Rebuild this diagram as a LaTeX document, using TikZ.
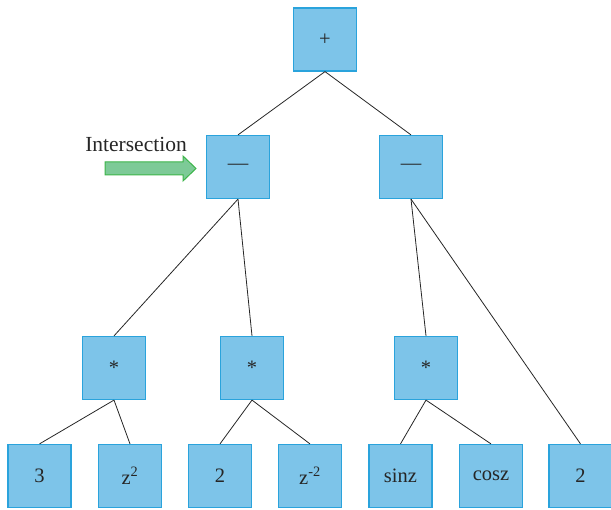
\documentclass[tikz,border=0pt]{standalone}
\usepackage{fontspec}
\setmainfont{Liberation Serif}
\definecolor{boxfill}{HTML}{7DC4E9}
\definecolor{boxedge}{HTML}{2AA3DC}
\definecolor{arrfill}{HTML}{7DCA97}
\definecolor{arredge}{HTML}{3DB54A}
\begin{document}
\begin{tikzpicture}[x=1pt,y=-1pt,
  tbox/.style={draw=boxedge,fill=boxfill,line width=1.2pt,minimum size=63pt,inner sep=0pt,
    font=\fontsize{20.5}{24}\selectfont,text=black!85},
  edge/.style={draw=black!85,line width=0.8pt}]
\useasboundingbox (0,0) rectangle (611,510);
\node[tbox] (top) at (325,39.5) {+};
\node[tbox] (m1) at (238,167) {—};
\node[tbox] (m2) at (411,167) {—};
\node[tbox] (s1) at (114,368) {*};
\node[tbox] (s2) at (252,368) {*};
\node[tbox] (s3) at (426,368) {*};
\node[tbox] (b1) at (39.5,476) {3};
\node[tbox] (b2) at (130,476) {z\textsuperscript{2}};
\node[tbox] (b3) at (220,476) {2};
\node[tbox] (b4) at (310,476) {z\textsuperscript{-2}};
\node[tbox] (b5) at (400.5,476) {sinz};
\node[tbox] (b6) at (491,476) {cosz};
\node[tbox] (b7) at (580.5,476) {2};
\draw[edge] (top.south) -- (m1.north);
\draw[edge] (top.south) -- (m2.north);
\draw[edge] (m1.south) -- (s1.north);
\draw[edge] (m1.south) -- (s2.north);
\draw[edge] (m2.south) -- (s3.north);
\draw[edge] (m2.south) -- (b7.north);
\draw[edge] (s1.south) -- (b1.north);
\draw[edge] (s1.south) -- (b2.north);
\draw[edge] (s2.south) -- (b3.north);
\draw[edge] (s2.south) -- (b4.north);
\draw[edge] (s3.south) -- (b5.north);
\draw[edge] (s3.south) -- (b6.north);
\node[anchor=base,font=\fontsize{21.5}{25}\selectfont,text=black!85,inner sep=0pt] (lbl) at (136,152) {Intersection};
\draw[draw=arredge,fill=arrfill,line width=1pt,line join=miter]
  (105,162) -- (183,162) -- (183,156) -- (196,168.5) -- (183,181) -- (183,175) -- (105,175) -- cycle;
\end{tikzpicture}
\end{document}
